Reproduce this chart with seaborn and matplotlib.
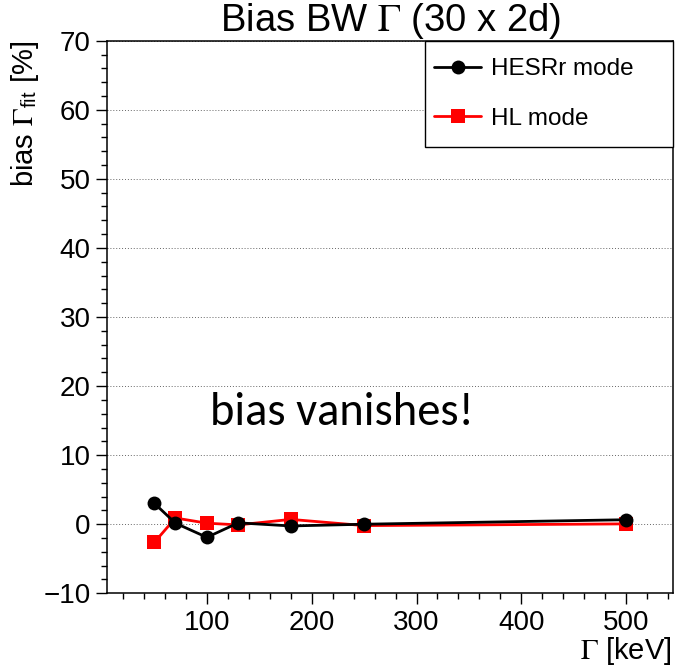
import matplotlib
matplotlib.use("Agg")
import matplotlib.pyplot as plt
import seaborn as sns
import pandas as pd
from matplotlib.ticker import MultipleLocator
from matplotlib.lines import Line2D
from matplotlib.patches import Rectangle

# ---- data ----
gamma_kev = [50, 70, 100, 130, 180, 250, 500]
hesr_bias = [3.0, 0.15, -1.9, 0.2, -0.25, 0.0, 0.65]
hl_bias = [-2.6, 0.9, 0.15, -0.1, 0.7, -0.2, 0.05]
series_names = ["HESRr mode", "HL mode"]
title_text = r"Bias BW $\Gamma$ (30 x 2d)"
ylabel_text = r"bias $\Gamma_{\mathregular{fit}}$ [%]"
xlabel_text = r"$\Gamma$ [keV]"
note_text = "bias vanishes!"

sns.set_style("ticks")
plt.rcParams["font.family"] = ["Liberation Sans Narrow", "Liberation Sans", "DejaVu Sans"]
plt.rcParams["mathtext.fontset"] = "stix"
for k in ["text.color", "axes.labelcolor", "xtick.color", "ytick.color", "axes.edgecolor"]:
    plt.rcParams[k] = "black"

df_hesr = pd.DataFrame({"x": gamma_kev, "y": hesr_bias})
df_hl = pd.DataFrame({"x": gamma_kev, "y": hl_bias})

fig = plt.figure(figsize=(6.78, 6.67), dpi=100)
ax = fig.add_axes([0.1583, 0.1105, 0.8348, 0.8285])

sns.lineplot(data=df_hl, x="x", y="y", ax=ax, color="#ff0000", marker="s",
             markersize=9.5, markeredgewidth=0, linewidth=2, sort=False, zorder=3)
sns.lineplot(data=df_hesr, x="x", y="y", ax=ax, color="black", marker="o",
             markersize=10, markeredgewidth=0, linewidth=2, sort=False, zorder=4)

ax.set_xlim(5, 545)
ax.set_ylim(-10, 70)
ax.xaxis.set_major_locator(MultipleLocator(100))
ax.xaxis.set_minor_locator(MultipleLocator(20))
ax.yaxis.set_major_locator(MultipleLocator(10))
ax.yaxis.set_minor_locator(MultipleLocator(2))
ax.tick_params(which="major", direction="out", length=8, width=1, labelsize=20, pad=4)
ax.tick_params(which="minor", direction="out", length=4.3, width=1)
ax.tick_params(top=False, right=False, which="both")
for s in ax.spines.values():
    s.set_visible(True)
    s.set_linewidth(1.1)
    s.set_color("black")

ax.yaxis.grid(True, which="major", linestyle=(0, (1, 2)), color="#666666", linewidth=0.7)
ax.set_axisbelow(True)

ax.set_title(title_text, fontsize=27.5, pad=0)
ax.set_ylabel(ylabel_text, fontsize=21, loc="top")
ax.yaxis.set_label_coords(-0.118, 1.0)
ax.set_xlabel(xlabel_text, fontsize=21, loc="right")
ax.xaxis.set_label_coords(0.997, -0.075)

ax.text(0.1815, 0.3046, note_text, transform=ax.transAxes, fontsize=33.5,
        family=["Carlito", "Lato", "DejaVu Sans"], ha="left", va="baseline")

# legend box (frame drawn as a rectangle in axes coordinates)
ax.add_patch(Rectangle((0.561, 0.807), 0.439, 0.193, transform=ax.transAxes,
                       facecolor="white", edgecolor="black", linewidth=1.0,
                       zorder=6, clip_on=False))
handles = [
    Line2D([], [], color="black", marker="o", markersize=10, markeredgewidth=0, linewidth=2),
    Line2D([], [], color="#ff0000", marker="s", markersize=9.5, markeredgewidth=0, linewidth=2),
]
leg = ax.legend(handles, series_names, loc="center left",
                bbox_to_anchor=(0.577, 0.9036), borderaxespad=0, borderpad=0,
                fontsize=17.5, frameon=False, labelspacing=1.12,
                handlelength=1.95, handletextpad=0.4)
leg.set_zorder(7)

fig.savefig("out.png", dpi=100, facecolor="white")
